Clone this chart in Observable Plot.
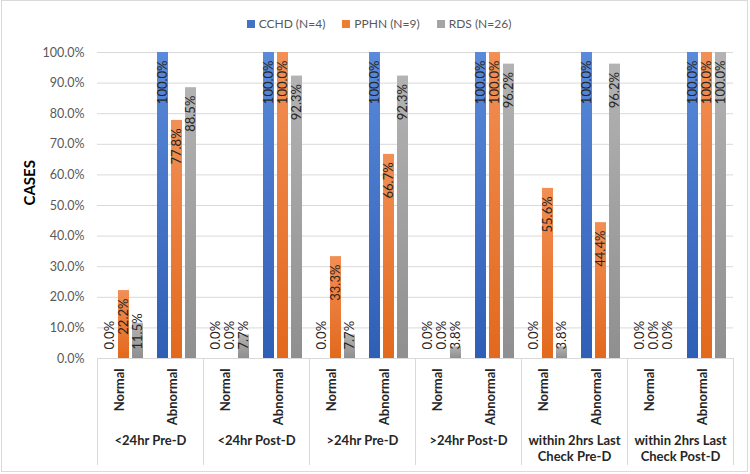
<!DOCTYPE html>
<html><head><meta charset="utf-8">
<script src="https://cdn.jsdelivr.net/npm/d3@7"></script>
<script src="https://cdn.jsdelivr.net/npm/@observablehq/plot@0.6"></script>
<style>
body{margin:0;background:#fff;font-family:Lato,"Open Sans",sans-serif}
#wrap{position:relative;width:750px;height:474px;overflow:hidden;background:#fff}
#chart{position:absolute;left:0;top:0}
#frame{position:absolute;left:1px;top:0;width:745px;height:470px;border:1px solid #D9D9D9;pointer-events:none}
#legend{position:absolute;top:16px;left:4px;width:750px;display:flex;justify-content:center;gap:17px;font-size:12px;color:#595959}
.item{display:flex;align-items:center;gap:4px;white-space:nowrap}
.sw{width:8px;height:8px;display:inline-block}
</style></head><body>
<div id="wrap"><div id="chart"></div><div id="legend"></div><div id="frame"></div></div>
<script>
// ---- data ----
const groups = ["<24hr Pre-D", "<24hr Post-D", ">24hr Pre-D", ">24hr Post-D", "within 2hrs Last\nCheck Pre-D", "within 2hrs Last\nCheck Post-D"];
const conditions = ["Normal", "Abnormal"];
const series = ["CCHD (N=4)", "PPHN (N=9)", "RDS (N=26)"];
const cchd = [0, 100, 0, 100, 0, 100, 0, 100, 0, 100, 0, 100];
const pphn = [22.2, 77.8, 0, 100, 33.3, 66.7, 0, 100, 55.6, 44.4, 0, 100];
const rds  = [11.5, 88.5, 7.7, 92.3, 7.7, 92.3, 3.8, 96.2, 3.8, 96.2, 0, 100];
const yTicks = [0, 10, 20, 30, 40, 50, 60, 70, 80, 90, 100];
const seriesColors = ["#4472C4", "#ED7D31", "#A5A5A5"];
const gradTop = ["#5A8AD9", "#F28F55", "#B3B3B3"];
const gradBottom = ["#2F5EB6", "#E2691D", "#8F8F8F"];

// ---- build table ----
const keys = [];
groups.forEach(g => conditions.forEach(c => keys.push(g + "|" + c)));
const seriesValues = [cchd, pphn, rds];
const rows = [];
keys.forEach((k, i) => series.forEach((s, j) => rows.push({key: k, series: s, value: seriesValues[j][i]})));

const W = 750, H = 474, mL = 97, mR = 17, mT = 52, mB = 116;
const facetW = (W - mL - mR) / keys.length;
const fmt = v => v.toFixed(1) + "%";
const ink = "#262626";

const plot = Plot.plot({
  width: W, height: H,
  marginLeft: mL, marginRight: mR, marginTop: mT, marginBottom: mB,
  style: {fontFamily: "Lato, 'Open Sans', sans-serif", fontSize: "13px", background: "transparent", overflow: "visible"},
  fx: {domain: keys, padding: 0, axis: null},
  x: {domain: series, paddingInner: 0.207, paddingOuter: 0.431, axis: null},
  y: {domain: [0, 100], axis: null},
  color: {domain: series, range: series.map((s, i) => `url(#grad${i})`)},
  marks: [
    Plot.gridY(yTicks, {stroke: "#D9D9D9", strokeOpacity: 1}),
    Plot.axisY(yTicks, {tickSize: 0, tickPadding: 13, tickFormat: fmt, color: "#595959", label: null, fontSize: 12.5}),
    Plot.barY(rows, {fx: "key", x: "series", y: "value", fill: "series"}),
    Plot.ruleY([0], {stroke: "#D9D9D9"}),
    Plot.text(rows.filter(d => d.value >= 15), {fx: "key", x: "series", y: "value", text: d => fmt(d.value), rotate: -90, textAnchor: "end", dy: 8, fill: ink, fontSize: 13}),
    Plot.text(rows.filter(d => d.value < 15), {fx: "key", x: "series", y: () => 0, text: d => fmt(d.value), rotate: -90, textAnchor: "start", dy: -9, fill: ink, fontSize: 13}),
    // condition labels below axis
    Plot.text(keys, {fx: d => d, text: d => d.split("|")[1], frameAnchor: "bottom", rotate: -90, textAnchor: "end", dy: 10, fontWeight: "bold", fill: ink, fontSize: 13}),
    // group labels
    Plot.text(groups, {fx: g => g + "|Normal", text: d => d, frameAnchor: "bottom", dx: facetW / 2, dy: 75, lineAnchor: "top", lineHeight: 1.25, fontWeight: "bold", fill: ink, fontSize: 13}),
    // group separators
    Plot.ruleX(groups, {fx: g => g + "|Normal", x: null, y1: () => 0, y2: () => -35, dx: -facetW / 2, stroke: "#D9D9D9"}),
    Plot.ruleX([keys[keys.length - 1]], {fx: d => d, x: null, y1: () => 0, y2: () => -35, dx: facetW / 2, stroke: "#D9D9D9"}),
    // y title
    Plot.text(["CASES"], {fx: () => keys[0], text: d => d, frameAnchor: "left", dx: -67, rotate: -90, fontWeight: "bold", fontSize: 15, fill: "#000"})
  ]
});

// gradients for bars
const defs = series.map((s, i) => `<linearGradient id="grad${i}" x1="0" y1="0" x2="0" y2="1"><stop offset="0" stop-color="${gradTop[i]}"/><stop offset="1" stop-color="${gradBottom[i]}"/></linearGradient>`).join("");
plot.insertAdjacentHTML("afterbegin", `<defs>${defs}</defs>`);
document.getElementById("chart").appendChild(plot);

// legend
const legend = document.getElementById("legend");
series.forEach((s, i) => {
  const item = document.createElement("div");
  item.className = "item";
  item.innerHTML = `<span class="sw" style="background:${seriesColors[i]}"></span><span>${s}</span>`;
  legend.appendChild(item);
});
</script>
</body></html>
